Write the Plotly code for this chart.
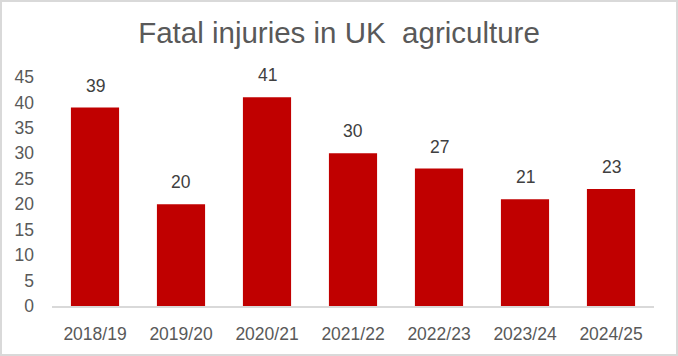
import plotly.graph_objects as go

categories = ["2018/19", "2019/20", "2020/21", "2021/22", "2022/23", "2023/24", "2024/25"]
fatalities = [39, 20, 41, 30, 27, 21, 23]
y_ticks = [0, 5, 10, 15, 20, 25, 30, 35, 40, 45]

W, H = 678, 356
L, R, T, B = 52, 24, 77, 50
FONT = "Liberation Sans, Arial, sans-serif"

fig = go.Figure()
fig.add_trace(go.Bar(
    x=categories, y=fatalities,
    marker=dict(color="#C00000", line=dict(width=0)),
    hoverinfo="x+y",
))

for c, v in zip(categories, fatalities):
    fig.add_annotation(x=c, y=v, text=str(v), showarrow=False,
                       yanchor="bottom", yshift=10,
                       font=dict(family=FONT, size=17.5, color="#404040"))

pw, ph = W - L - R, H - T - B
fig.add_shape(type="rect", xref="paper", yref="paper",
              x0=(1 - L) / pw, x1=(W - L - 1) / pw,
              y0=-(B - 1) / ph, y1=(H - B - 1) / ph,
              line=dict(color="#D9D9D9", width=2), layer="below")

fig.update_layout(
    width=W, height=H,
    margin=dict(l=L, r=R, t=T, b=B, pad=0, autoexpand=False),
    paper_bgcolor="white", plot_bgcolor="white",
    bargap=0.44,
    showlegend=False,
    title=dict(text="Fatal injuries in UK  agriculture", x=0.5, xanchor="center",
               y=1 - 33 / H, yanchor="middle",
               font=dict(family=FONT, size=29.5, color="#595959")),
    font=dict(family=FONT, size=17.5, color="#595959"),
)
fig.update_xaxes(showline=True, linecolor="#D9D9D9", linewidth=1.5,
                 showgrid=False, ticks="", ticklabelstandoff=11, automargin=False,
                 tickfont=dict(size=17.5, color="#595959"))
fig.update_yaxes(range=[0, 45], tickvals=y_ticks, showgrid=False, zeroline=False,
                 showline=False, ticks="", ticklabelstandoff=17, automargin=False,
                 tickfont=dict(size=17.5, color="#595959"))

fig.write_html("out.html", config={"displayModeBar": False},
               post_script="document.body.style.margin='0';")
